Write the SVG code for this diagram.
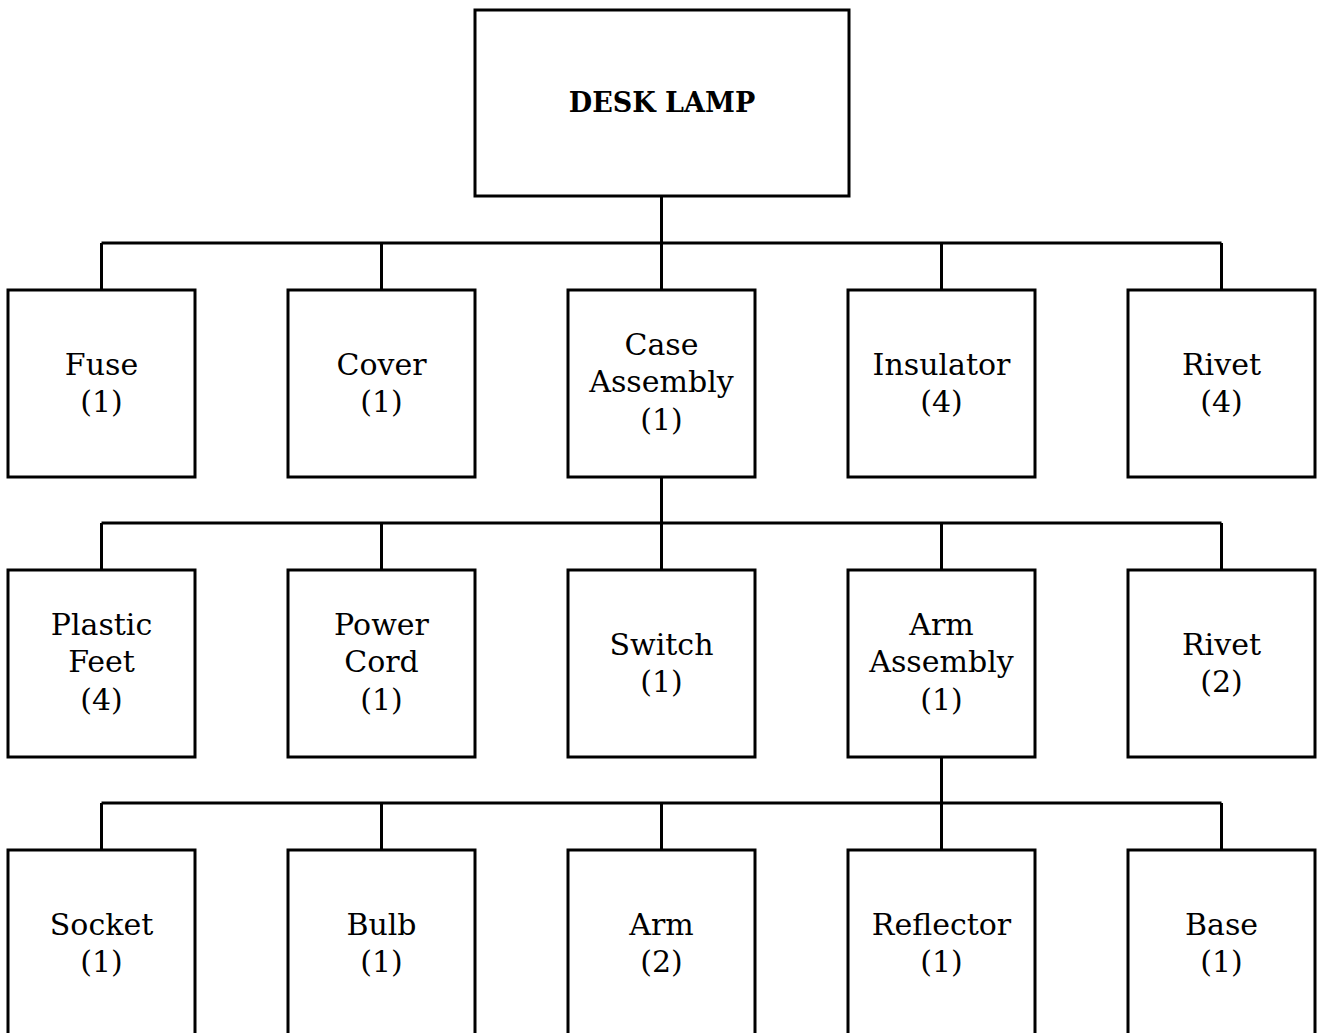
<svg xmlns="http://www.w3.org/2000/svg" width="1317" height="1033" viewBox="0 0 1317 1033">
<style>
rect{fill:#fff;stroke:#000;stroke-width:3}
.c path{fill:none;stroke:#000;stroke-width:3}
text{font-family:"DejaVu Serif",serif;font-size:30px;text-anchor:middle;fill:#000}
.t{font-weight:bold;font-size:27px}
</style>
<rect width="1317" height="1033" style="stroke:none"/>
<g class="c">
<path d="M661.5 196V243M101.5 243H1221.5M101.5 243V290M381.5 243V290M661.5 243V290M941.5 243V290M1221.5 243V290"/>
<path d="M661.5 477V523M101.5 523H1221.5M101.5 523V570M381.5 523V570M661.5 523V570M941.5 523V570M1221.5 523V570"/>
<path d="M941.5 757V803M101.5 803H1221.5M101.5 803V850M381.5 803V850M661.5 803V850M941.5 803V850M1221.5 803V850"/>
</g>
<g id="desk-lamp"><rect x="475" y="10" width="374" height="186"/><text class="t" x="662" y="112">DESK LAMP</text></g>
<g id="fuse"><rect x="8" y="290" width="187" height="187"/><text x="101.5" y="375">Fuse</text><text x="101.5" y="412">(1)</text></g>
<g id="cover"><rect x="288" y="290" width="187" height="187"/><text x="381.5" y="375">Cover</text><text x="381.5" y="412">(1)</text></g>
<g id="case-assembly"><rect x="568" y="290" width="187" height="187"/><text x="661.5" y="355">Case</text><text x="661.5" y="392">Assembly</text><text x="661.5" y="430">(1)</text></g>
<g id="insulator"><rect x="848" y="290" width="187" height="187"/><text x="941.5" y="375">Insulator</text><text x="941.5" y="412">(4)</text></g>
<g id="rivet-4"><rect x="1128" y="290" width="187" height="187"/><text x="1221.5" y="375">Rivet</text><text x="1221.5" y="412">(4)</text></g>
<g id="plastic-feet"><rect x="8" y="570" width="187" height="187"/><text x="101.5" y="635">Plastic</text><text x="101.5" y="672">Feet</text><text x="101.5" y="710">(4)</text></g>
<g id="power-cord"><rect x="288" y="570" width="187" height="187"/><text x="381.5" y="635">Power</text><text x="381.5" y="672">Cord</text><text x="381.5" y="710">(1)</text></g>
<g id="switch"><rect x="568" y="570" width="187" height="187"/><text x="661.5" y="655">Switch</text><text x="661.5" y="692">(1)</text></g>
<g id="arm-assembly"><rect x="848" y="570" width="187" height="187"/><text x="941.5" y="635">Arm</text><text x="941.5" y="672">Assembly</text><text x="941.5" y="710">(1)</text></g>
<g id="rivet-2"><rect x="1128" y="570" width="187" height="187"/><text x="1221.5" y="655">Rivet</text><text x="1221.5" y="692">(2)</text></g>
<g id="socket"><rect x="8" y="850" width="187" height="187"/><text x="101.5" y="935">Socket</text><text x="101.5" y="972">(1)</text></g>
<g id="bulb"><rect x="288" y="850" width="187" height="187"/><text x="381.5" y="935">Bulb</text><text x="381.5" y="972">(1)</text></g>
<g id="arm"><rect x="568" y="850" width="187" height="187"/><text x="661.5" y="935">Arm</text><text x="661.5" y="972">(2)</text></g>
<g id="reflector"><rect x="848" y="850" width="187" height="187"/><text x="941.5" y="935">Reflector</text><text x="941.5" y="972">(1)</text></g>
<g id="base"><rect x="1128" y="850" width="187" height="187"/><text x="1221.5" y="935">Base</text><text x="1221.5" y="972">(1)</text></g>
</svg>
